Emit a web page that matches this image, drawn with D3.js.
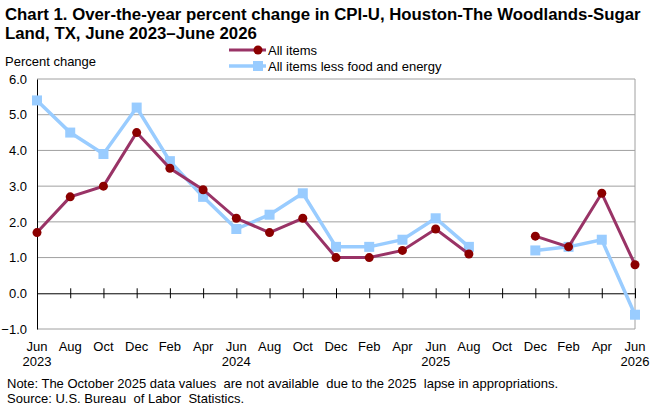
<!DOCTYPE html>
<html><head><meta charset="utf-8">
<script src="https://cdn.jsdelivr.net/npm/d3@7"></script>
<style>body{margin:0;background:#fff}svg{display:block;font-family:"Liberation Sans",Arial,sans-serif}.pre{white-space:pre}</style>
</head><body><svg id="c" width="660" height="408"></svg>
<script>
const months = ["Jun","Aug","Oct","Dec","Feb","Apr","Jun","Aug","Oct","Dec","Feb","Apr","Jun","Aug","Oct","Dec","Feb","Apr","Jun"];
const years  = ["2023","","","","","","2024","","","","","","2025","","","","","","2026"];
const allItems = [1.7,2.7,3.0,4.5,3.5,2.9,2.1,1.7,2.1,1.0,1.0,1.2,1.8,1.1,null,1.6,1.3,2.8,0.8];
const core     = [5.4,4.5,3.9,5.2,3.7,2.7,1.8,2.2,2.8,1.3,1.3,1.5,2.1,1.3,null,1.2,1.3,1.5,-0.6];
const yTicks = [-1,0,1,2,3,4,5,6];

const svg = d3.select("#c");
const L=37,R=635,T=79,B=329;
const FS=13;
const x = d3.scaleLinear().domain([0,months.length-1]).range([L,R]);
const y = d3.scaleLinear().domain([-1,6]).range([B,T]);

// title
const title = svg.append("text").attr("font-weight","bold").attr("font-size",16.8).attr("fill","#000");
title.append("tspan").attr("x",5).attr("y",20).text("Chart 1. Over-the-year percent change in CPI-U, Houston-The Woodlands-Sugar");
title.append("tspan").attr("x",5).attr("y",39).text("Land, TX, June 2023\u2013June 2026");

svg.append("text").attr("x",5).attr("y",66).attr("font-size",FS).text("Percent change");

// gridlines
svg.append("g").selectAll("line").data(yTicks.filter(d=>d>0)).join("line")
  .attr("x1",L).attr("x2",R).attr("y1",d=>y(d)).attr("y2",d=>y(d)).attr("stroke","#a0a0a0").attr("stroke-width",1);
// border
svg.append("line").attr("x1",R).attr("x2",R).attr("y1",T).attr("y2",B).attr("stroke","#a0a0a0");
svg.append("line").attr("x1",L).attr("x2",R).attr("y1",B).attr("y2",B).attr("stroke","#a0a0a0");

// y axis
const yAxis = d3.axisLeft(y).tickValues(yTicks).tickFormat(d3.format(".1f")).tickSize(0).tickPadding(10);
const gy = svg.append("g").attr("transform",`translate(${L},0)`).call(yAxis);
gy.select(".domain").attr("stroke","#000");
gy.selectAll("text").attr("font-size",FS).attr("font-family","Liberation Sans, Arial, sans-serif").attr("fill","#000");

// zero axis with ticks crossing
const xAxis = d3.axisBottom(x).tickValues(d3.range(months.length)).tickSize(0).tickFormat("");
const gx = svg.append("g").attr("transform",`translate(0,${y(0)})`).call(xAxis);
gx.select(".domain").attr("stroke","#000");
gx.selectAll(".tick line").attr("y1",-5).attr("y2",5).attr("stroke","#000");

// x labels
const lab = svg.append("g").attr("font-size",FS).attr("text-anchor","middle");
lab.selectAll("text.m").data(months).join("text").attr("class","m").attr("x",(d,i)=>x(i)).attr("y",351).text(d=>d);
lab.selectAll("text.yr").data(years).join("text").attr("class","yr").attr("x",(d,i)=>x(i)).attr("y",366).text(d=>d);

// lines
const lineGen = d3.line().defined(d=>d!=null).x((d,i)=>x(i)).y(d=>y(d));
const coreC="#99ccff", allLine="#993366", allMark="#8b0000";
svg.append("path").datum(core).attr("d",lineGen).attr("fill","none").attr("stroke",coreC).attr("stroke-width",3.5);
svg.append("g").selectAll("rect").data(core.map((v,i)=>({v,i})).filter(d=>d.v!=null)).join("rect")
  .attr("x",d=>x(d.i)-5).attr("y",d=>y(d.v)-5).attr("width",10).attr("height",10).attr("fill",coreC);
svg.append("path").datum(allItems).attr("d",lineGen).attr("fill","none").attr("stroke",allLine).attr("stroke-width",3);
svg.append("g").selectAll("circle").data(allItems.map((v,i)=>({v,i})).filter(d=>d.v!=null)).join("circle")
  .attr("cx",d=>x(d.i)).attr("cy",d=>y(d.v)).attr("r",4.5).attr("fill",allMark);

// legend
const lg = svg.append("g").attr("font-size",FS);
lg.append("line").attr("x1",229).attr("x2",266).attr("y1",50).attr("y2",50).attr("stroke",allLine).attr("stroke-width",3);
lg.append("circle").attr("cx",258).attr("cy",50).attr("r",4.5).attr("fill",allMark);
lg.append("text").attr("x",268).attr("y",54.5).text("All items");
lg.append("line").attr("x1",229).attr("x2",266).attr("y1",66).attr("y2",66).attr("stroke",coreC).attr("stroke-width",3.5);
lg.append("rect").attr("x",253).attr("y",61).attr("width",10).attr("height",10).attr("fill",coreC);
lg.append("text").attr("x",268).attr("y",70.5).text("All items less food and energy");

// notes
svg.append("text").attr("class","pre").attr("x",7).attr("y",388).attr("font-size",FS).text("Note: The October 2025 data values  are not available  due to the 2025  lapse in appropriations.");
svg.append("text").attr("class","pre").attr("x",7).attr("y",403).attr("font-size",FS).text("Source: U.S. Bureau  of Labor  Statistics.");
</script></body></html>
